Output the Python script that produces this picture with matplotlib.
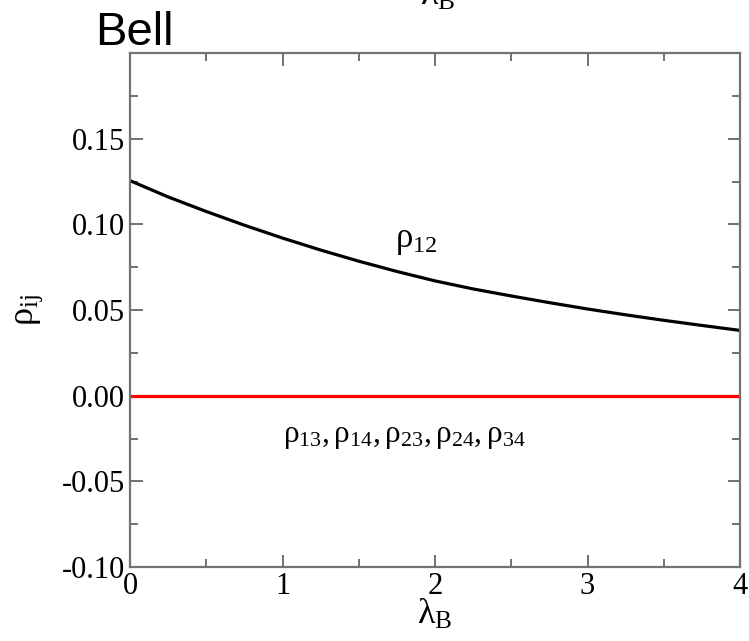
import matplotlib.pyplot as plt
from matplotlib.ticker import MultipleLocator

plt.rcParams['font.family'] = ['Liberation Serif', 'DejaVu Serif']
plt.rcParams['mathtext.fontset'] = 'custom'
plt.rcParams['mathtext.rm'] = 'Liberation Serif'
plt.rcParams['mathtext.it'] = 'Liberation Serif:italic'

# datos
lam = [0.0, 0.25, 0.5, 0.75, 1.0, 1.25, 1.5, 1.75, 2.0,
       2.25, 2.5, 2.75, 3.0, 3.25, 3.5, 3.75, 4.0]
rho12 = [0.1255, 0.1160, 0.1075, 0.0995, 0.0920, 0.0850, 0.0785, 0.0725, 0.0670,
         0.0623, 0.0582, 0.0543, 0.0506, 0.0472, 0.0440, 0.0410, 0.0381]
rho_rest = [0.0] * len(lam)

fig = plt.figure(figsize=(7.49, 6.41), dpi=100)
ax = fig.add_axes([0.1736, 0.1154, 0.8144, 0.8019])

ax.plot(lam, rho12, color='black', linewidth=2.3)
ax.plot(lam, rho_rest, color='red', linewidth=2.3)

ax.set_xlim(0, 4)
ax.set_ylim(-0.10, 0.20)
ax.xaxis.set_major_locator(MultipleLocator(1))
ax.xaxis.set_minor_locator(MultipleLocator(0.5))
ax.yaxis.set_minor_locator(MultipleLocator(0.025))
ax.set_yticks([-0.10, -0.05, 0.00, 0.05, 0.10, 0.15])
ax.set_yticklabels(['-0.10', '-0.05', '0.00', '0.05', '0.10', '0.15'])

ax.tick_params(which='both', direction='in', top=True, right=True,
               color='0.35', labelsize=22)
ax.tick_params(which='major', length=9, width=1.2)
ax.tick_params(which='minor', length=6, width=1.2)
for s in ax.spines.values():
    s.set_color('0.45')
    s.set_linewidth(1.6)

ax.set_xlabel(r'$\mathrm{\lambda}_\mathrm{B}$', fontsize=26, labelpad=-2)
ax.set_ylabel(r'$\mathrm{\rho}_\mathrm{ij}$', fontsize=26, labelpad=12)

ax.text(1.875, 0.0907, r'$\mathrm{\rho}_{12}$', fontsize=25,
        ha='center', va='center')
ax.text(1.80, -0.024,
        r'$\mathrm{\rho}_{13}, \mathrm{\rho}_{14}, \mathrm{\rho}_{23}, '
        r'\mathrm{\rho}_{24}, \mathrm{\rho}_{34}$',
        fontsize=22.5, ha='center', va='center')

fig.text(0.127, 0.93, 'Bell', fontsize=34, family='Liberation Sans')
fig.text(0.585, 0.98, r'$\mathrm{\lambda}_\mathrm{B}$', fontsize=26,
         ha='center', va='bottom')

fig.savefig('out.png', dpi=100)
